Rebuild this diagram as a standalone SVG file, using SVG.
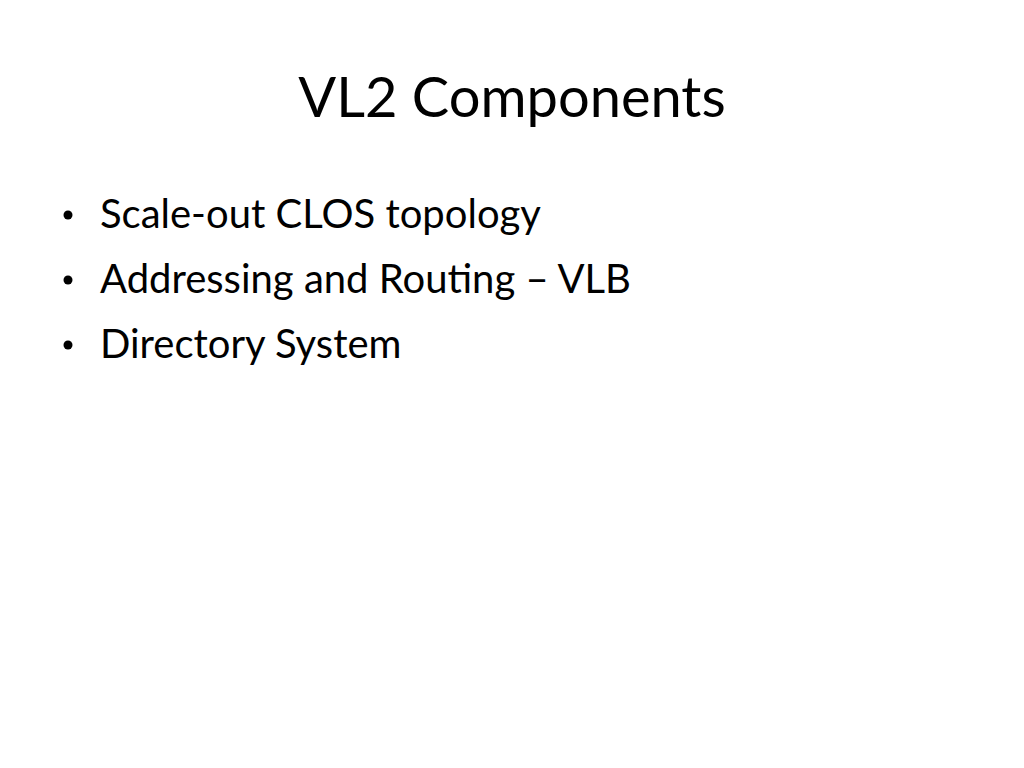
<svg xmlns="http://www.w3.org/2000/svg" width="1024" height="768" viewBox="0 0 1024 768">
<style>
.t{font-family:Lato,"Open Sans",sans-serif;fill:#000}
.b{font-size:40px}
</style>
<rect width="1024" height="768" fill="#fff"/>
<g id="title"><text class="t" x="512" y="117" font-size="56" text-anchor="middle">VL2 Components</text></g>
<g id="bullets">
<circle cx="68" cy="215" r="4.5"/>
<text class="t b" x="100" y="228">Scale-out CLOS topology</text>
<circle cx="68" cy="280" r="4.5"/>
<text class="t b" x="100" y="293">Addressing and Routing – VLB</text>
<circle cx="68" cy="345" r="4.5"/>
<text class="t b" x="100" y="358">Directory System</text>
</g>
</svg>
